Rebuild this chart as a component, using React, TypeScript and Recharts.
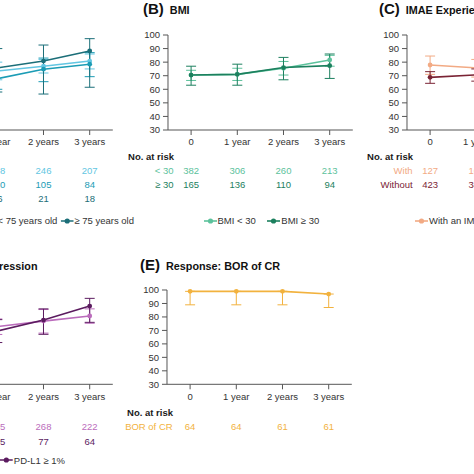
import React from 'react';
import { LineChart, Line, XAxis, YAxis, ErrorBar } from 'recharts';

const FONT = '"Liberation Sans", Arial, Helvetica, sans-serif';

// ---------- data ----------
const timePoints = [0, 1, 2, 3];
const timeLabels = ['0', '1 year', '2 years', '3 years'];
const yTicks = [30, 40, 50, 60, 70, 80, 90, 100];

// (A) Age
const ageNames = ['< 65 years old', '65 to < 75 years old', '≥ 75 years old'];
const ageRiskLabels = ['< 65', '65 to < 75', '≥ 75'];
const ageColors = ['#62c6e2', '#1b9cb5', '#1b6e78'];
const ageValues = [
  [70, 73.5, 77, 80.8],
  [68, 67.8, 74.8, 78.5],
  [72, 75.8, 80.8, 88.2],
];
const ageLo = [
  [64, 67, 72, 75],
  [60, 60, 65.6, 69.3],
  [55, 58, 56.5, 61.5],
];
const ageHi = [
  [76, 80, 82, 86],
  [76, 76, 83, 87],
  [88, 90, 92.6, 97.3],
];
const ageRisk = [
  [352, 288, 246, 207],
  [160, 130, 105, 84],
  [38, 26, 21, 18],
];

// (B) BMI
const bmiNames = ['BMI < 30', 'BMI ≥ 30'];
const bmiRiskLabels = ['< 30', '≥ 30'];
const bmiColors = ['#5cc29c', '#1c805e'];
const bmiValues = [
  [70.5, 71, 75.5, 81.6],
  [70.5, 71, 76, 77.4],
];
const bmiLo = [
  [66.5, 66.5, 70.5, 77],
  [63, 63, 67, 68],
];
const bmiHi = [
  [74, 75.5, 80.5, 85],
  [77, 78.5, 83.5, 86],
];
const bmiRisk = [
  [382, 306, 260, 213],
  [165, 136, 110, 94],
];

// (C) IMAE experience
const imaeNames = ['With an IMAE', 'Without an IMAE'];
const imaeRiskLabels = ['With', 'Without'];
const imaeColors = ['#f2aa84', '#7a2334'];
const imaeValues = [
  [77.9, 75.8, 80, 82],
  [68.8, 70.6, 76, 80],
];
const imaeLo = [
  [71, 69, 73, 75],
  [64.4, 66, 72, 76],
];
const imaeHi = [
  [84.5, 82, 86, 88],
  [73, 75, 80, 84],
];
const imaeRisk = [
  [127, 104, 88, 72],
  [423, 342, 285, 235],
];

// (D) PD-L1 expression
const pdNames = ['PD-L1 < 1%', 'PD-L1 ≥ 1%'];
const pdRiskLabels = ['< 1%', '≥ 1%'];
const pdColors = ['#bb6cbc', '#5b1b5f'];
const pdValues = [
  [70, 72.8, 76.9, 80.7],
  [68, 69.5, 77.7, 88.1],
];
const pdLo = [
  [64, 67, 68, 75.3],
  [60, 61, 67.1, 76],
];
const pdHi = [
  [76, 78.5, 85.5, 86],
  [76, 78, 86, 93.8],
];
const pdRisk = [
  [405, 335, 268, 222],
  [130, 105, 77, 64],
];

// (E) Response: BOR of CR
const crNames = ['BOR of CR'];
const crRiskLabels = ['BOR of CR'];
const crColors = ['#f2b23e'];
const crValues = [[99, 99, 99, 97]];
const crLo = [[89, 89, 89, 87]];
const crHi = [[99, 99, 99, 97]];
const crRisk = [[64, 64, 61, 61]];

// ---------- layout ----------
const SPACING = 46.2;
const PLOT_W = SPACING * 4;
const ML = 70; // svg px left of plot
const MR = 20;
const MT = 10;
const XAXIS_H = 30;
const MB = 100;

type PanelCfg = {
  key: string;
  letter: string;
  title: string;
  x0: number; // page x of tick "0"
  plotTop: number;
  plotBottom: number;
  noRiskDy: number;
  rowDy: number[];
  names: string[];
  riskLabels: string[];
  colors: string[];
  values: number[][];
  lo: number[][];
  hi: number[][];
  risk: number[][];
  titleX: number;
  titleAlignRight?: boolean;
  titleTop: number;
  legend?: { top: number; x: number; alignRight?: boolean; gap: number };
};

const TOP_ROWS = [41, 54.5, 68.3];
const BOT_ROWS = [42.4, 57.4];

const panels: PanelCfg[] = [
  {
    key: 'A', letter: '(A)', title: 'Age', x0: -49.1, plotTop: 35, plotBottom: 130,
    noRiskDy: 27, rowDy: TOP_ROWS, names: ageNames, riskLabels: ageRiskLabels, colors: ageColors,
    values: ageValues, lo: ageLo, hi: ageHi, risk: ageRisk, titleX: -60, titleAlignRight: true, titleTop: 0,
    legend: { top: 220.5, x: 134, alignRight: true, gap: 3 },
  },
  {
    key: 'B', letter: '(B)', title: 'BMI', x0: 190.7, plotTop: 35, plotBottom: 130,
    noRiskDy: 27, rowDy: TOP_ROWS, names: bmiNames, riskLabels: bmiRiskLabels, colors: bmiColors,
    values: bmiValues, lo: bmiLo, hi: bmiHi, risk: bmiRisk, titleX: 143, titleTop: 0,
    legend: { top: 220.5, x: 203.5, gap: 11.5 },
  },
  {
    key: 'C', letter: '(C)', title: 'IMAE Experience', x0: 430.5, plotTop: 35, plotBottom: 130,
    noRiskDy: 27, rowDy: TOP_ROWS, names: imaeNames, riskLabels: imaeRiskLabels, colors: imaeColors,
    values: imaeValues, lo: imaeLo, hi: imaeHi, risk: imaeRisk, titleX: 379, titleTop: 0,
    legend: { top: 220.5, x: 415, gap: 11.5 },
  },
  {
    key: 'D', letter: '(D)', title: 'PD-L1 expression', x0: -49.1, plotTop: 290, plotBottom: 384.3,
    noRiskDy: 28.7, rowDy: BOT_ROWS, names: pdNames, riskLabels: pdRiskLabels, colors: pdColors,
    values: pdValues, lo: pdLo, hi: pdHi, risk: pdRisk, titleX: 37.5, titleAlignRight: true, titleTop: 255.5,
    legend: { top: 460, x: 65, alignRight: true, gap: 11.5 },
  },
  {
    key: 'E', letter: '(E)', title: 'Response: BOR of CR', x0: 190.3, plotTop: 290, plotBottom: 384.3,
    noRiskDy: 28.7, rowDy: BOT_ROWS, names: crNames, riskLabels: crRiskLabels, colors: crColors,
    values: crValues, lo: crLo, hi: crHi, risk: crRisk, titleX: 140, titleTop: 255.5,
  },
];

function buildData(p: PanelCfg) {
  return timePoints.map((t, i) => {
    const row: Record<string, number | number[]> = { t };
    p.values.forEach((vals, s) => {
      row['s' + s] = vals[i];
      row['e' + s] = [vals[i] - p.lo[s][i], p.hi[s][i] - vals[i]];
    });
    return row;
  });
}

const TXT = '#333333';

function makeTick(p: PanelCfg, axisY: number) {
  return (props: any) => {
    const { x, payload } = props;
    const i = payload.value as number;
    return (
      <g>
        <text x={x} y={axisY + 12} dy="0.35em" textAnchor="middle" fontSize={9.5} fill={TXT} fontFamily={FONT}>
          {timeLabels[i]}
        </text>
        {i === 0 && (
          <text x={x - 63} y={axisY + p.noRiskDy} dy="0.35em" textAnchor="start" fontSize={9.5} fontWeight="bold" fill="#1a1a1a" fontFamily={FONT}>
            No. at risk
          </text>
        )}
        {p.risk.map((r, k) => (
          <g key={k}>
            {i === 0 && (
              <text x={x - 17.5} y={axisY + p.rowDy[k]} dy="0.35em" textAnchor="end" fontSize={9.5} fill={p.colors[k]} fontFamily={FONT}>
                {p.riskLabels[k]}
              </text>
            )}
            <text x={x} y={axisY + p.rowDy[k]} dy="0.35em" textAnchor="middle" fontSize={9.5} fill={p.colors[k]} fontFamily={FONT}>
              {r[i]}
            </text>
          </g>
        ))}
      </g>
    );
  };
}

function Panel({ p }: { p: PanelCfg }) {
  const plotH = p.plotBottom - p.plotTop;
  const width = ML + PLOT_W + MR;
  const height = MT + plotH + XAXIS_H + MB;
  const left = p.x0 - SPACING / 2 - ML;
  const top = p.plotTop - MT;
  const data = buildData(p);
  const axisY = MT + plotH;
  return (
    <div style={{ position: 'absolute', left, top, width, height }}>
      <LineChart width={width} height={height} data={data} margin={{ top: MT, right: MR, left: ML - 40, bottom: MB }}>
        <XAxis
          dataKey="t"
          type="number"
          domain={[-0.5, 3.5]}
          ticks={timePoints}
          interval={0}
          height={XAXIS_H}
          tickSize={5}
          stroke="#555555"
          axisLine={{ stroke: '#555555', strokeWidth: 1 }}
          tickLine={{ stroke: '#555555', strokeWidth: 1 }}
          tick={makeTick(p, axisY)}
        />
        <YAxis
          type="number"
          domain={[30, 100]}
          ticks={yTicks}
          interval={0}
          width={40}
          tickSize={5}
          tickMargin={3}
          axisLine={{ stroke: '#555555', strokeWidth: 1 }}
          tickLine={{ stroke: '#555555', strokeWidth: 1 }}
          tick={{ fontSize: 9.5, fill: TXT, fontFamily: FONT }}
        />
        {p.values.map((_, s) => (
          <Line
            key={s}
            type="linear"
            dataKey={'s' + s}
            name={p.names[s]}
            stroke={p.colors[s]}
            strokeWidth={1.6}
            dot={{ r: 2.4, fill: p.colors[s], stroke: p.colors[s], strokeWidth: 0 }}
            activeDot={false}
            isAnimationActive={false}
          >
            <ErrorBar dataKey={'e' + s} width={5} stroke={p.colors[s]} strokeWidth={1} direction="y" isAnimationActive={false} />
          </Line>
        ))}
      </LineChart>
    </div>
  );
}

function Title({ p }: { p: PanelCfg }) {
  const style: React.CSSProperties = {
    position: 'absolute',
    top: p.titleTop,
    left: p.titleX,
    width: 'max-content',
    transform: p.titleAlignRight ? 'translateX(-100%)' : undefined,
    display: 'flex',
    alignItems: 'baseline',
    whiteSpace: 'nowrap',
    fontFamily: FONT,
    fontWeight: 'bold',
    color: '#111',
    lineHeight: '17px',
  };
  return (
    <div style={style}>
      <span style={{ fontSize: 15 }}>{p.letter}</span>
      <span style={{ fontSize: 10.8, marginLeft: 6 }}>{p.title}</span>
    </div>
  );
}

function LegendRow({ p }: { p: PanelCfg }) {
  if (!p.legend) return null;
  const lg = p.legend;
  const style: React.CSSProperties = {
    position: 'absolute',
    top: lg.top - 6,
    left: lg.x,
    width: 'max-content',
    transform: lg.alignRight ? 'translateX(-100%)' : undefined,
    height: 12,
    display: 'flex',
    alignItems: 'center',
    gap: lg.gap,
    whiteSpace: 'nowrap',
    fontFamily: FONT,
    fontSize: 9.5,
    color: TXT,
  };
  return (
    <div style={style}>
      {p.names.map((n, s) => (
        <div key={s} style={{ display: 'flex', alignItems: 'center' }}>
          <svg width={13} height={8} style={{ display: 'block' }}>
            <line x1={0} y1={4} x2={13} y2={4} stroke={p.colors[s]} strokeWidth={1.6} />
            <circle cx={6.5} cy={4} r={2.6} fill={p.colors[s]} />
          </svg>
          <span style={{ marginLeft: 1 }}>{n}</span>
        </div>
      ))}
    </div>
  );
}

export default function App() {
  return (
    <div
      style={{
        position: 'absolute',
        left: 0,
        top: 0,
        width: 474,
        height: 474,
        overflow: 'hidden',
        background: '#ffffff',
        fontFamily: FONT,
      }}
    >
      {panels.map((p) => (
        <Panel key={p.key} p={p} />
      ))}
      {panels.map((p) => (
        <Title key={'t' + p.key} p={p} />
      ))}
      {panels.map((p) => (
        <LegendRow key={'l' + p.key} p={p} />
      ))}
    </div>
  );
}
